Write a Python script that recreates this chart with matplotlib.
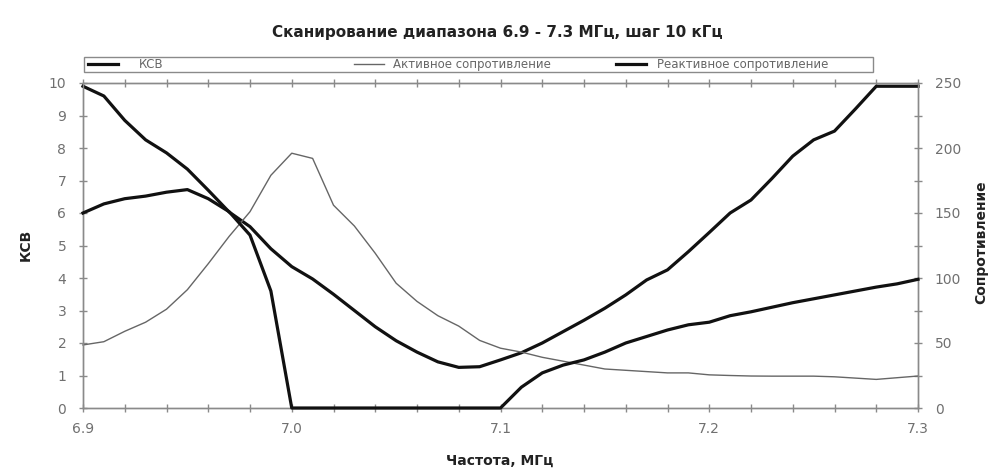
import matplotlib
matplotlib.use("Agg")
import matplotlib.pyplot as plt
from matplotlib.ticker import MultipleLocator, FixedLocator
from matplotlib.patches import Rectangle

plt.rcParams['font.family'] = ['DejaVu Sans']

# Frequency, MHz (scan 6.9 - 7.3 MHz, step 10 kHz)
freq = [6.90, 6.91, 6.92, 6.93, 6.94, 6.95, 6.96, 6.97, 6.98, 6.99,
        7.00, 7.01, 7.02, 7.03, 7.04, 7.05, 7.06, 7.07, 7.08, 7.09,
        7.10, 7.11, 7.12, 7.13, 7.14, 7.15, 7.16, 7.17, 7.18, 7.19,
        7.20, 7.21, 7.22, 7.23, 7.24, 7.25, 7.26, 7.27, 7.28, 7.29, 7.30]

# SWR (left axis)
swr = [9.9, 9.6, 8.85, 8.25, 7.85, 7.35, 6.7, 6.03, 5.58, 4.9,
       4.35, 3.97, 3.5, 3.0, 2.5, 2.07, 1.72, 1.42, 1.25, 1.27,
       1.48, 1.7, 2.0, 2.35, 2.7, 3.07, 3.48, 3.94, 4.25, 4.81,
       5.4, 6.0, 6.4, 7.06, 7.75, 8.25, 8.52, 9.2, 9.9, 9.9, 9.9]

# Active resistance, Ohm (right axis)
active = [48.5, 51, 59, 66, 76, 91, 111, 132, 151, 179,
          196, 192, 156, 140, 119, 96, 82, 71, 63, 52,
          46, 43, 39, 36, 33, 30, 29, 28, 27, 27,
          25.5, 25, 24.6, 24.5, 24.5, 24.5, 24, 23, 22, 23.3, 24.6]

# Reactive resistance, Ohm (right axis)
reactive = [150, 157, 161, 163, 166, 168, 161, 151, 133, 90,
            0, 0, 0, 0, 0, 0, 0, 0, 0, 0,
            0, 16, 27, 33, 37, 43, 50, 55, 60, 64,
            66, 71, 74, 77.5, 81, 84, 87, 90, 93, 95.5, 99]

title = "Сканирование диапазона 6.9 - 7.3 МГц, шаг 10 кГц"
labels = ["КСВ", "Активное сопротивление", "Реактивное сопротивление"]
x_ticks = [6.9, 7.0, 7.1, 7.2, 7.3]
x_ticklabels = ["6.9", "7.0", "7.1", "7.2", "7.3"]

W, H = 988, 472
fig = plt.figure(figsize=(W / 100, H / 100), dpi=100)
fig.patch.set_facecolor("white")
ax = fig.add_axes([83 / W, 1 - 408 / H, (918 - 83) / W, (408 - 83) / H])
ax2 = ax.twinx()

grey = "#8a8a8a"
tick_col = "#707070"

l_swr, = ax.plot(freq, swr, color="#111111", lw=2.3, solid_joinstyle="round",
                 clip_on=False, zorder=3)
l_act, = ax2.plot(freq, active, color="#666666", lw=1.0, clip_on=False, zorder=2)
l_rea, = ax2.plot(freq, reactive, color="#111111", lw=2.3, solid_joinstyle="round",
                  clip_on=False, zorder=3)

ax.set_xlim(6.9, 7.3)
ax.set_ylim(0, 10)
ax2.set_ylim(0, 250)

ax.xaxis.set_major_locator(FixedLocator(x_ticks))
ax.set_xticklabels(x_ticklabels)
ax.xaxis.set_minor_locator(MultipleLocator(0.02))
ax.yaxis.set_major_locator(MultipleLocator(1))
ax2.yaxis.set_major_locator(MultipleLocator(50))
ax2.yaxis.set_minor_locator(MultipleLocator(25))

for a in (ax, ax2):
    for s in a.spines.values():
        s.set_color(grey)
        s.set_linewidth(1.0)
    a.set_facecolor("none")

ax.tick_params(axis="x", which="both", direction="inout", length=6, width=1,
               color=grey, labelcolor=tick_col, labelsize=10, pad=7, top=True)
ax.tick_params(axis="y", which="both", direction="inout", length=6, width=1,
               color=grey, labelcolor=tick_col, labelsize=10, pad=9)
ax2.tick_params(axis="y", which="both", direction="inout", length=6, width=1,
                color=grey, labelcolor=tick_col, labelsize=10, pad=9)

fig.text(497 / W, 1 - 32 / H, title, ha="center", va="center",
         fontsize=11, fontweight="bold", color="#222222")
fig.text(500 / W, 1 - 461 / H, "Частота, МГц", ha="center", va="center",
         fontsize=10, fontweight="bold", color="#222222")
fig.text(26 / W, 1 - 245 / H, "КСВ", ha="center", va="center", rotation=90,
         fontsize=10, fontweight="bold", color="#222222")
fig.text(981 / W, 1 - 242 / H, "Сопротивление", ha="center", va="center",
         rotation=90, fontsize=10, fontweight="bold", color="#222222")

# Legend frame and entries
fig.patches.append(Rectangle((84 / W, 1 - 72 / H), (873 - 84) / W, 15 / H,
                             transform=fig.transFigure, facecolor="white",
                             edgecolor=grey, lw=1.0))
entries = [(l_swr, labels[0], 88, 1.8), (l_act, labels[1], 354, 0.8),
           (l_rea, labels[2], 616, 1.0)]
for h, lab, x0, tp in entries:
    lg = fig.legend([h], [lab], loc="center left",
                    bbox_to_anchor=(x0 / W, 1 - 64.5 / H), frameon=False,
                    fontsize=8.5, handlelength=2.5, handletextpad=tp,
                    borderpad=0, borderaxespad=0)
    for t in lg.get_texts():
        t.set_color("#666666")

fig.savefig("out.png", dpi=100, facecolor="white")
